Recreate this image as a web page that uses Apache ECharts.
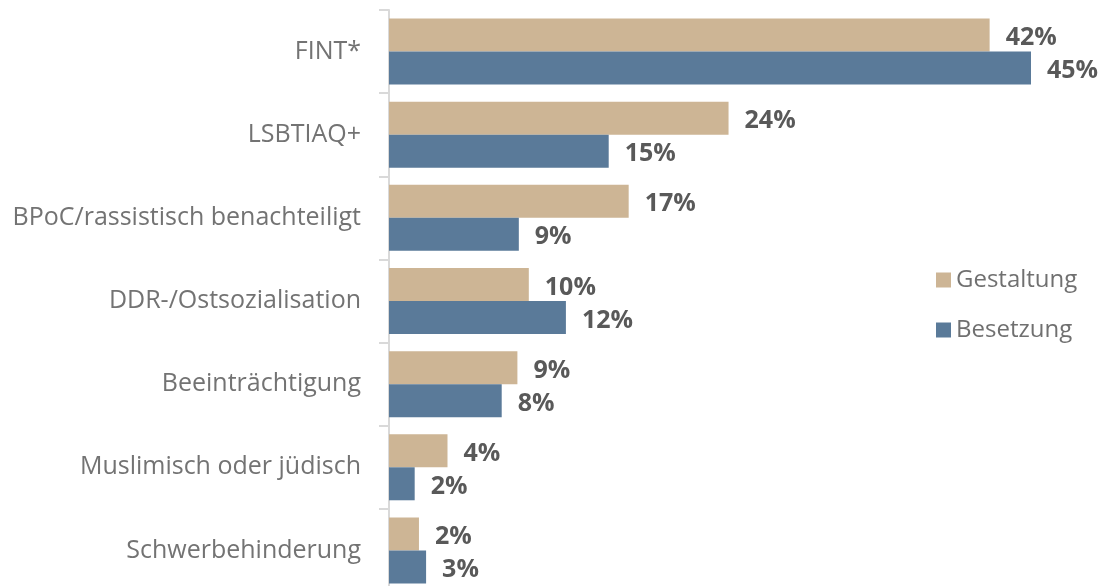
<!DOCTYPE html>
<html>
<head>
<meta charset="utf-8">
<script src="https://cdn.jsdelivr.net/npm/echarts@6/dist/echarts.min.js"></script>
<style>
  html, body { margin: 0; padding: 0; background: #fff; }
  #chart { width: 1105px; height: 586px; }
</style>
</head>
<body>
<div id="chart"></div>
<script>
// Kategorien von oben nach unten
const categories = ['FINT*', 'LSBTIAQ+', 'BPoC/rassistisch benachteiligt', 'DDR-/Ostsozialisation',
    'Beeinträchtigung', 'Muslimisch oder jüdisch', 'Schwerbehinderung']
const gestaltung = [42.1, 23.8, 16.8, 9.8, 9.0, 4.1, 2.1]
const besetzung = [45.0, 15.4, 9.1, 12.4, 7.9, 1.8, 2.6]
const seriesNames = ['Gestaltung', 'Besetzung']

const chart = echarts.init(document.getElementById('chart'))

const labelStyle = {
    show: true,
    position: 'right',
    distance: 16,
    offset: [0, 3],
    color: '#595959',
    fontFamily: 'Open Sans',
    fontWeight: 'bold',
    fontSize: 25,
    formatter: function (p) {
        return Math.round(p.value) + '%'
    }
}

const option = {
    backgroundColor: '#fff',
    animation: false,
    legend: {
        orient: 'vertical',
        left: 931,
        top: 263,
        itemWidth: 15,
        itemHeight: 15,
        itemGap: 26,
        icon: 'rect',
        data: seriesNames,
        textStyle: {
            color: '#707070',
            fontFamily: 'Open Sans',
            fontSize: 24
        }
    },
    grid: {
        left: 389,
        right: 74,
        top: 10,
        height: 582,
        outerBoundsMode: 'none',
        containLabel: false
    },
    xAxis: {
        type: 'value',
        min: 0,
        max: 45,
        show: false
    },
    yAxis: {
        type: 'category',
        inverse: true,
        data: categories,
        axisLine: { show: true, lineStyle: { color: '#d9d9d9', width: 2 } },
        axisTick: { show: true, length: 10, lineStyle: { color: '#d9d9d9', width: 2 } },
        axisLabel: {
            margin: 28,
            color: '#737373',
            fontFamily: 'Open Sans',
            fontSize: 25
        }
    },
    series: [
        {
            name: 'Gestaltung',
            type: 'bar',
            data: gestaltung,
            barWidth: 33,
            barGap: '0%',
            itemStyle: { color: '#cdb595' },
            label: labelStyle
        },
        {
            name: 'Besetzung',
            type: 'bar',
            data: besetzung,
            barWidth: 33,
            itemStyle: { color: '#5a7a99' },
            label: labelStyle
        }
    ]
}
chart.setOption(option)
</script>
</body>
</html>
